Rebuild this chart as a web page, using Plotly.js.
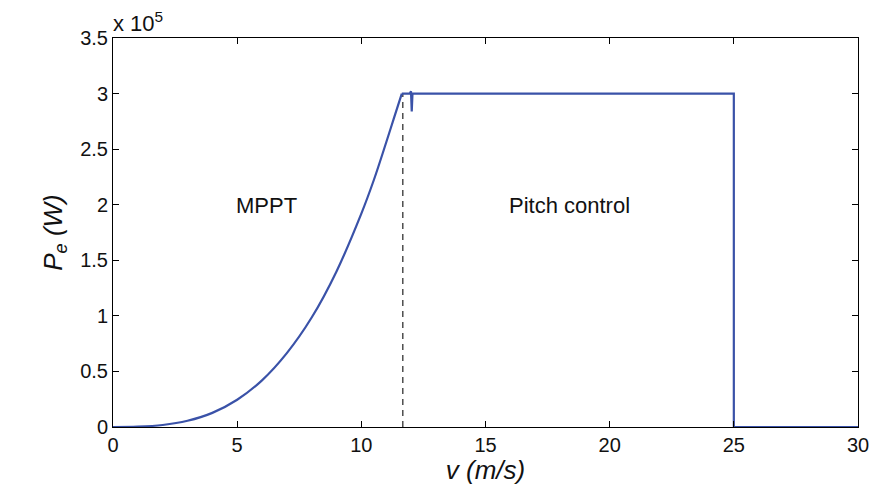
<!DOCTYPE html>
<html><head><meta charset="utf-8">
<script src="https://cdn.plot.ly/plotly-3.0.1.min.js"></script>
<style>body{margin:0;background:#fff}#c{width:875px;height:485px}</style>
</head><body><div id="c"></div>
<script>
// wind speed (m/s) and electrical power (x 1e5 W)
// MPPT region (cubic-looking rise)
const mpptSpeed = [0, 1, 2, 3, 4, 5, 6, 7, 8, 9, 10, 10.5, 11, 11.3, 11.63];
const mpptPower = [0, 0.003, 0.018, 0.056, 0.127, 0.245, 0.42, 0.665, 0.985, 1.40, 1.92, 2.22, 2.56, 2.77, 3.0];
// pitch-control region and cut-out
const pitchSpeed = [11.63, 11.95, 12.0, 12.03, 12.06, 12.1, 25, 25, 30];
const pitchPower = [3.0, 3.0, 3.02, 2.84, 3.0, 3.0, 3.0, 0, 0];
const ratedSpeed = [11.67, 11.67];
const ratedPower = [0, 3.0];
const xTicks = [0, 5, 10, 15, 20, 25, 30];
const yTicks = [0, 0.5, 1, 1.5, 2, 2.5, 3, 3.5];
const yTickText = ['0', '0.5', '1', '1.5', '2', '2.5', '3', '3.5'];

const font = 'Liberation Sans, Arial, sans-serif';
const blue = '#3a52a8';
const traces = [
  {x: ratedSpeed, y: ratedPower, mode: 'lines', line: {color: '#333', width: 1.3, dash: '6px,5px'}},
  {x: mpptSpeed, y: mpptPower, mode: 'lines', line: {color: blue, width: 2.2, shape: 'spline', smoothing: 1}},
  {x: pitchSpeed, y: pitchPower, mode: 'lines', line: {color: blue, width: 2.2}}
];
const axisCommon = {
  showgrid: false, zeroline: false, showline: true, linecolor: '#000', linewidth: 1,
  mirror: 'ticks', ticks: 'inside', ticklen: 6, tickcolor: '#000',
  tickfont: {family: font, size: 20, color: '#111'}
};
const layout = {
  width: 875, height: 485,
  margin: {l: 113, r: 17, t: 38, b: 58},
  showlegend: false,
  paper_bgcolor: '#fff', plot_bgcolor: '#fff',
  xaxis: Object.assign({}, axisCommon, {
    range: [0, 30], tickvals: xTicks, ticktext: xTicks.map(String),
    title: {text: '<i>v (m/s)</i>', font: {family: font, size: 26, color: '#111'}, standoff: 2}
  }),
  yaxis: Object.assign({}, axisCommon, {
    range: [0, 3.5], tickvals: yTicks, ticktext: yTickText,
    title: {text: '<i>P<sub>e</sub> (W)</i>', font: {family: font, size: 26, color: '#111'}, standoff: 10}
  }),
  annotations: [
    {x: 0, y: 1, xref: 'paper', yref: 'paper', xanchor: 'left', yanchor: 'bottom', showarrow: false,
     text: 'x 10<sup>5</sup>', font: {family: font, size: 22, color: '#111'}, xshift: -2, yshift: 0},
    {x: 6.2, y: 1.99, xref: 'x', yref: 'y', showarrow: false, text: 'MPPT',
     font: {family: font, size: 22, color: '#111'}},
    {x: 18.4, y: 1.99, xref: 'x', yref: 'y', showarrow: false, text: 'Pitch control',
     font: {family: font, size: 22, color: '#111'}}
  ]
};
Plotly.newPlot('c', traces, layout, {displayModeBar: false, staticPlot: true});
</script></body></html>
